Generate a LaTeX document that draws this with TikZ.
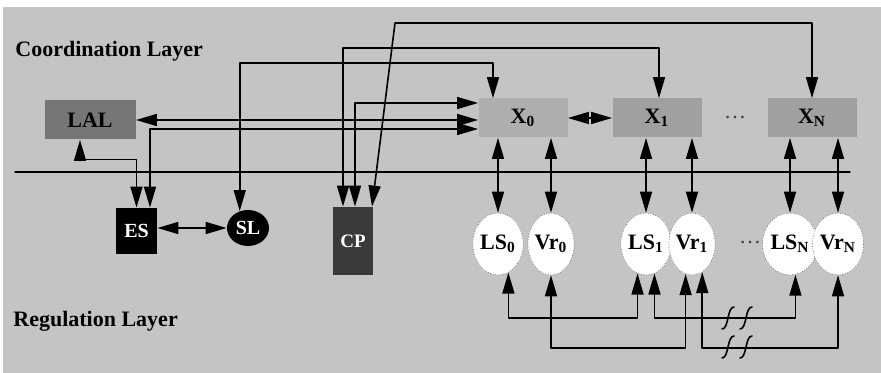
\documentclass[tikz,border=0pt]{standalone}
\usepackage{fontspec}
\setmainfont{Liberation Serif}
\usepackage{tikz}
\usetikzlibrary{arrows.meta,calc,positioning,shapes.geometric}
\definecolor{scanbg}{HTML}{C4C4C4}
\definecolor{lalgray}{HTML}{767676}
\definecolor{agentgray}{HTML}{A0A0A0}
\definecolor{agentlight}{HTML}{AEAEAE}
\definecolor{cpgray}{HTML}{3A3A3A}
\definecolor{ringgray}{HTML}{6A6A6A}
\tikzset{
every picture/.style={line cap=round,line join=round},
head/.tip={Triangle[length=10.5pt,width=6pt]},
layer label/.style={font=\fontsize{11}{13}\selectfont\bfseries, anchor=base west, inner sep=0pt},
dots label/.style={font=\fontsize{11}{13}\selectfont, text=black!75, inner sep=0pt},
agent box/.style={
  fill=agentgray,
  minimum width=44.5pt,
  minimum height=19.5pt,
  inner sep=0pt,
  font=\fontsize{11}{13}\selectfont\bfseries
},
lal box/.style={agent box, fill=lalgray, minimum width=45.5pt},
es box/.style={
  fill=black,
  text=white,
  minimum width=20.5pt,
  minimum height=23pt,
  inner sep=0pt,
  font=\fontsize{10}{12}\selectfont\bfseries
},
sl node/.style={es box, ellipse, minimum width=21pt, minimum height=18pt},
cp box/.style={es box, fill=cpgray, minimum width=20pt, minimum height=34pt, font=\fontsize{9.5}{11}\selectfont\bfseries},
reg node/.style={
  ellipse,
  fill=white,
  draw=ringgray,
  line width=0.3pt,
  densely dotted,
  minimum width=20pt,
  minimum height=31pt,
  inner sep=0pt,
  font=\fontsize{11}{13}\selectfont\bfseries
},
link/.style={draw=black, line width=0.8pt, {head}-{head}},
divider/.style={draw=black, line width=0.7pt},
break mark/.style={draw=black, line width=0.8pt}
}
\begin{document}
\begin{tikzpicture}[x=0.5pt,y=-0.5pt]
\useasboundingbox (0,0) rectangle (881,373);
\fill[scanbg] (3,7) rectangle (881,373);
\draw[divider] (15,172) -- (850,172);
\node[layer label] (coordlabel) at (15,57) {Coordination Layer};
\node[layer label] (reglabel) at (13,326) {Regulation Layer};
\node[lal box] (LAL) at (90,120) {LAL};
\node[agent box,fill=agentlight] (X0) at (523,118) {X\textsubscript{0}};
\node[agent box] (X1) at (657,118) {X\textsubscript{1}};
\node[agent box] (XN) at (812,118) {X\textsubscript{N}};
\node[dots label] (xdots) at (735,118) {\dots};
\node[es box] (ES) at (136.5,231) {ES};
\node[sl node] (SL) at (248,228) {SL};
\node[cp box] (CP) at (353,241) {CP};
\node[reg node] (LS0) at (498,244) {LS\textsubscript{0}};
\node[reg node] (Vr0) at (551,244) {Vr\textsubscript{0}};
\node[reg node] (LS1) at (646,244) {LS\textsubscript{1}};
\node[reg node] (Vr1) at (692,244) {Vr\textsubscript{1}};
\node[reg node] (LSN) at (790,244) {LS\textsubscript{N}};
\node[reg node] (VrN) at (838,244) {Vr\textsubscript{N}};
\node[dots label] (rdots) at (750,243) {\dots};
\coordinate (xnlead) at (395,23);
\coordinate (lsrow) at (0,318);
\coordinate (vrrow) at (0,348);
\draw[link] ($(LAL.south)+(-10,0)$) |- ($(ES.north)+(0,-48)$) -- (ES.north);
\draw[link] (LAL.east) -- (LAL.east -| X0.west);
\draw[link] ($(ES.north)+(13.5,0)$) |- ($(X0.west)+(0,11)$);
\draw[link] (ES.east |- SL.west) -- (SL.west);
\draw[link] (SL.116) |- ($(X0.north)+(-30,-35)$) -- ($(X0.north)+(-30,0)$);
\draw[link] ($(CP.north)+(-10,0)$) |- ($(X1.north)+(2,-50)$) -- ($(X1.north)+(2,0)$);
\draw[link] ($(CP.north)+(2,0)$) |- ($(X0.west)+(0,-15)$);
\draw[link] ($(CP.north)+(19,0)$) -- (xnlead) -| (XN.north);
\draw[link] (X0.east) -- (X1.west);
\foreach \r/\x in {LS0/X0,Vr0/X0,LS1/X1,Vr1/X1,LSN/XN,VrN/XN}
  \draw[link] (\r.north) -- (\r.north |- \x.south);
\draw[link] (LS0.290) -- (LS0.290 |- lsrow) -| (LS1.254);
\draw[link] (LS1.286) -- (LS1.286 |- lsrow) -| (LSN.280);
\draw[link] (Vr0.south) -- (Vr0.south |- vrrow) -| (Vr1.258);
\draw[link] (Vr1.290) -- (Vr1.290 |- vrrow) -| (VrN.south);
\foreach \bx in {728,746} {
  \foreach \by in {318,347} {
    \draw[break mark] (\bx-6,\by+11) .. controls (\bx+1,\by+11) and (\bx-1,\by-11) .. (\bx+6,\by-11);
  }
}
\end{tikzpicture}
\end{document}
